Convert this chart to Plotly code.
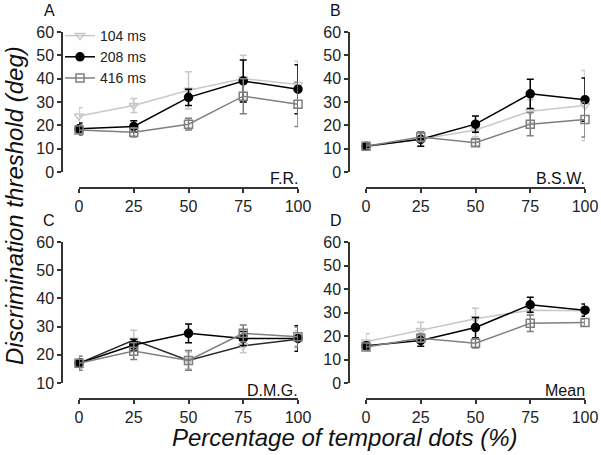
import plotly.graph_objects as go

x_pct = [0, 25, 50, 75, 100]
series_names = ["104 ms", "208 ms", "416 ms"]

# Panel A (F.R.)
a_104 = [24, 28.5, 35, 40, 37.5]
a_104_err = [3.5, 3, 8, 10, 10]
a_208 = [18.5, 19.5, 32, 39, 35.5]
a_208_err = [2.5, 2.5, 3.5, 9, 10.5]
a_416 = [18, 17, 20.5, 32.5, 29]
a_416_err = [2, 2, 2.5, 7.5, 9.5]

# Panel B (B.S.W.)
b_104 = [11, 14, 18, 26, 28.5]
b_104_err = [1, 3, 3, 5, 15]
b_208 = [11, 14, 20.5, 33.5, 31]
b_208_err = [1, 3, 3.5, 6.3, 9.3]
b_416 = [11, 15, 12.5, 20.5, 22.5]
b_416_err = [1, 2, 1.5, 5, 7.5]

# Panel C (D.M.G.)
c_104 = [17, 25.2, 18, 23.2, 25.5]
c_104_err = [2.5, 3.5, 3, 2.5, 3]
c_208 = [17, 23.5, 27.6, 25.8, 25.8]
c_208_err = [1.5, 2, 3.3, 2.5, 4.5]
c_416 = [17, 21.3, 18, 27.6, 26.4]
c_416_err = [2.5, 3, 3.5, 3, 3.5]

# Panel D (Mean)
d_104 = [17.5, 22.3, 27.3, 31, 30.7]
d_104_err = [3.5, 3.5, 4.5, 2, 2]
d_208 = [15.8, 18.1, 23.6, 33.3, 31]
d_208_err = [1.5, 2.5, 4.3, 3.2, 2.6]
d_416 = [15.3, 19, 16.9, 25.4, 25.7]
d_416_err = [1.5, 1.5, 2, 3.5, 1.5]

panel_letters = ["A", "B", "C", "D"]
subject_labels = ["F.R.", "B.S.W.", "D.M.G.", "Mean"]
x_ticks = [0, 25, 50, 75, 100]
x_title = "Percentage of temporal dots (%)"
y_title = "Discrimination threshold (deg)"

W, H = 601, 455
FONT = "Liberation Sans, Arial, Helvetica, sans-serif"
AXC = "#333333"

col = {"104 ms": "#c8c8c8", "208 ms": "#000000", "416 ms": "#7f7f7f"}
sym = {"104 ms": "triangle-down-open", "208 ms": "circle", "416 ms": "square-open"}
msize = {"104 ms": 8, "208 ms": 8, "416 ms": 8}

panels = [
    dict(data=[(a_104, a_104_err), (a_208, a_208_err), (a_416, a_416_err)],
         xpix=(79, 298), ypix=(172, 32), yline=62, xline=188, yr=[0, 60]),
    dict(data=[(b_104, b_104_err), (b_208, b_208_err), (b_416, b_416_err)],
         xpix=(366, 585), ypix=(172, 32), yline=349, xline=188, yr=[0, 60]),
    dict(data=[(c_104, c_104_err), (c_208, c_208_err), (c_416, c_416_err)],
         xpix=(79, 298), ypix=(383, 242), yline=62, xline=399, yr=[10, 60]),
    dict(data=[(d_104, d_104_err), (d_208, d_208_err), (d_416, d_416_err)],
         xpix=(366, 585), ypix=(383, 242), yline=349, xline=399, yr=[0, 60]),
]

fig = go.Figure()
layout = dict(
    width=W, height=H,
    margin=dict(l=0, r=0, t=0, b=0, autoexpand=False),
    paper_bgcolor="white", plot_bgcolor="white",
    font=dict(family=FONT, size=16, color="#222222"),
    showlegend=True,
    legend=dict(x=60 / W, y=1 - 20 / H, xanchor="left", yanchor="top",
                bgcolor="rgba(0,0,0,0)", font=dict(size=14, color="#222"),
                itemwidth=30, tracegroupgap=0),
)
annotations = []

for i, p in enumerate(panels):
    k = "" if i == 0 else str(i + 1)
    xa, ya = "x" + k, "y" + k
    for j, name in enumerate(series_names):
        vals, errs = p["data"][j]
        lc = col[name]
        if i == 2 and name == "104 ms":
            lc = "#2a2a2a"
        fig.add_trace(go.Scatter(
            x=x_pct, y=vals, xaxis=xa, yaxis=ya, name=name,
            mode="lines+markers", showlegend=(i == 0), legendgroup=name,
            line=dict(color=lc, width=1.5),
            marker=dict(symbol=sym[name], size=msize[name], color=col[name],
                        line=dict(color=col[name], width=1.5)),
            error_y=dict(type="data", array=errs, visible=True, color=col[name],
                         thickness=1.5, width=3.5),
            cliponaxis=False,
        ))
    x0, x1 = p["xpix"]
    yb, yt = p["ypix"]
    axis_common = dict(showline=True, linecolor=AXC, linewidth=1.5, ticks="outside",
                       tickcolor=AXC, tickwidth=1.5, showgrid=False, zeroline=False,
                       automargin=False,
                       tickfont=dict(size=16, family=FONT, color="#222"))
    layout["xaxis" + k] = dict(domain=[x0 / W, x1 / W], range=[0, 100], anchor="free",
                               position=1 - p["xline"] / H, tickvals=x_ticks, ticklen=4,
                               **axis_common)
    layout["yaxis" + k] = dict(domain=[1 - yb / H, 1 - yt / H], range=p["yr"], anchor="free",
                               position=p["yline"] / W, dtick=10, ticklen=4,
                               **axis_common)
    # panel letter
    annotations.append(dict(text=panel_letters[i], xref="paper", yref="paper",
                            x=(p["yline"] - 13) / W, y=1 - (yt - 22) / H,
                            xanchor="center", yanchor="middle", showarrow=False,
                            font=dict(size=16, color="#111")))
    # subject label
    annotations.append(dict(text=subject_labels[i], xref="paper", yref="paper",
                            x=(x1 + 2) / W, y=1 - (p["xline"] - 9) / H,
                            xanchor="right", yanchor="middle", showarrow=False,
                            font=dict(size=16, color="#111")))

annotations.append(dict(text="<i>" + x_title + "</i>", xref="paper", yref="paper",
                        x=345 / W, y=1 - 437 / H, xanchor="center", yanchor="middle",
                        showarrow=False, font=dict(size=24, color="#111")))
annotations.append(dict(text="<i>" + y_title + "</i>", xref="paper", yref="paper",
                        x=15 / W, y=1 - 206 / H, xanchor="center", yanchor="middle",
                        textangle=-90, showarrow=False, font=dict(size=24, color="#111")))
layout["annotations"] = annotations
fig.update_layout(**layout)
fig.write_html("out.html", config={"displayModeBar": False},
               post_script="document.body.style.margin='0';document.body.style.overflow='hidden';")
